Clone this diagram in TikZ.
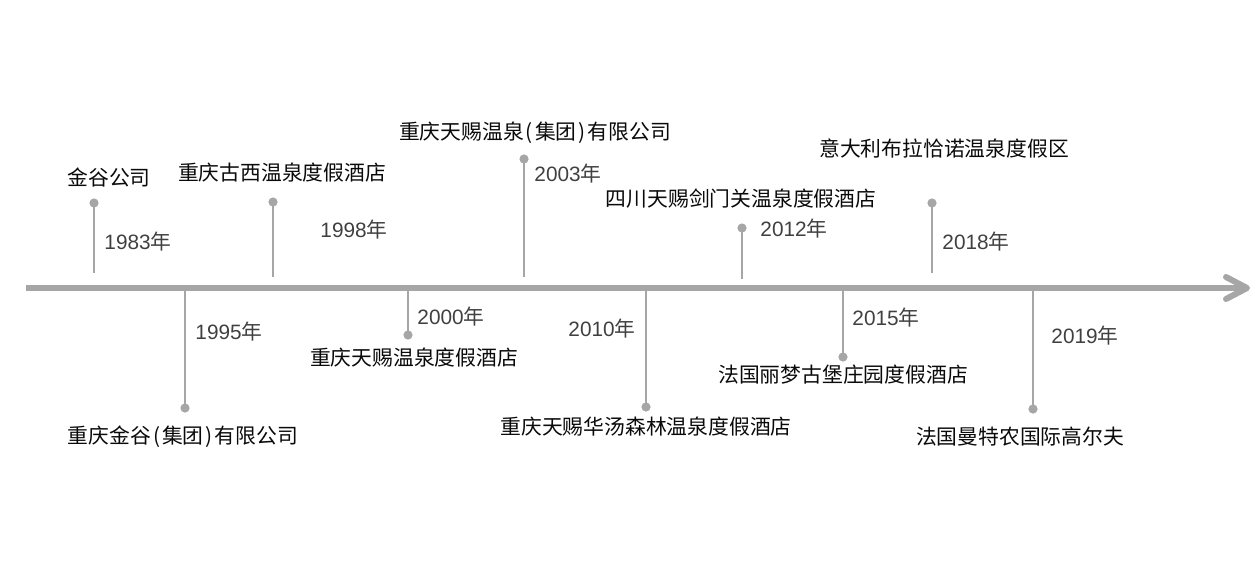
\documentclass[tikz,border=0pt]{standalone}
\usepackage{fontspec}
\setmainfont{Liberation Sans}
\newfontfamily\cjk{Noto Sans CJK SC}
\definecolor{linegray}{HTML}{A6A6A6}
\definecolor{yeargray}{HTML}{404040}
\definecolor{labelblack}{HTML}{0A0A0A}
\tikzset{
  axisline/.style={draw=linegray, line width=3pt},
  stem/.style={draw=linegray, line width=1.4pt},
  stemdot/.style={circle, fill=linegray, inner sep=0pt, minimum size=4.6pt},
  yearlbl/.style={text=yeargray, inner sep=0pt, font=\fontsize{10.4}{12}\selectfont},
  eventlbl/.style={text=labelblack, inner sep=0pt, font=\cjk\fontsize{10.4}{12}\selectfont},
}
\newcommand{\yr}[1]{#1{\cjk 年}}
\newcommand{\lp}{\hspace{1pt}(\hspace{1pt}}
\newcommand{\rp}{\hspace{1pt})\hspace{1pt}}
\begin{document}
\begin{tikzpicture}[x=0.5pt,y=-0.5pt]
\useasboundingbox (0,0) rectangle (1257,574);
% axis
\coordinate (axL) at (26,288);
\coordinate (axR) at (1245,288);
\coordinate (tip) at (1247,288);
\coordinate (armU) at (1226,277);
\coordinate (armD) at (1226,299);
\draw[axisline] (axL) -- (axR);
\draw[axisline, line cap=round, line join=round] (armU) -- (tip) -- (armD);

% 1983 (above)
\node[stemdot] (d1) at (94,203) {};
\coordinate (e1) at (94,273);
\draw[stem] (d1.center) -- (e1);
\node[yearlbl] (y1) at (138,242) {\yr{1983}};
\node[eventlbl] (t1) at (109,178) {金谷公司};

% 1995 (below)
\coordinate (s2) at (185,290);
\node[stemdot] (d2) at (185,408) {};
\draw[stem] (s2) -- (d2.center);
\node[yearlbl] (y2) at (229,332) {\yr{1995}};
\node[eventlbl] (t2) at (183,437) {重庆金谷\lp 集团\rp 有限公司};

% 1998 (above)
\node[stemdot] (d3) at (273,202) {};
\coordinate (e3) at (273,277);
\draw[stem] (d3.center) -- (e3);
\node[yearlbl] (y3) at (354,230) {\yr{1998}};
\node[eventlbl] (t3) at (282,173) {重庆古西温泉度假酒店};

% 2000 (below)
\coordinate (s4) at (408,290);
\node[stemdot] (d4) at (408,335) {};
\draw[stem] (s4) -- (d4.center);
\node[yearlbl] (y4) at (451,317) {\yr{2000}};
\node[eventlbl] (t4) at (414,358) {重庆天赐温泉度假酒店};

% 2003 (above)
\node[stemdot] (d5) at (524,159) {};
\coordinate (e5) at (524,277);
\draw[stem] (d5.center) -- (e5);
\node[yearlbl] (y5) at (568,174) {\yr{2003}};
\node[eventlbl] (t5) at (535,133) {重庆天赐温泉\lp 集团\rp 有限公司};

% 2010 (below)
\coordinate (s6) at (646,290);
\node[stemdot] (d6) at (646,407) {};
\draw[stem] (s6) -- (d6.center);
\node[yearlbl] (y6) at (602,329) {\yr{2010}};
\node[eventlbl] (t6) at (646,427) {重庆天赐华汤森林温泉度假酒店};

% 2012 (above)
\node[stemdot] (d7) at (742,228) {};
\coordinate (e7) at (742,279);
\draw[stem] (d7.center) -- (e7);
\node[yearlbl] (y7) at (794,229) {\yr{2012}};
\node[eventlbl] (t7) at (741,199) {四川天赐剑门关温泉度假酒店};

% 2015 (below)
\coordinate (s8) at (843,290);
\node[stemdot] (d8) at (843,357) {};
\draw[stem] (s8) -- (d8.center);
\node[yearlbl] (y8) at (886,318) {\yr{2015}};
\node[eventlbl] (t8) at (843,375) {法国丽梦古堡庄园度假酒店};

% 2018 (above)
\node[stemdot] (d9) at (932,203) {};
\coordinate (e9) at (932,273);
\draw[stem] (d9.center) -- (e9);
\node[yearlbl] (y9) at (976,242) {\yr{2018}};
\node[eventlbl] (t9) at (944,149) {意大利布拉恰诺温泉度假区};

% 2019 (below)
\coordinate (s10) at (1033,290);
\node[stemdot] (d10) at (1033,409) {};
\draw[stem] (s10) -- (d10.center);
\node[yearlbl] (y10) at (1085,336) {\yr{2019}};
\node[eventlbl] (t10) at (1020,437) {法国曼特农国际高尔夫};
\end{tikzpicture}
\end{document}
